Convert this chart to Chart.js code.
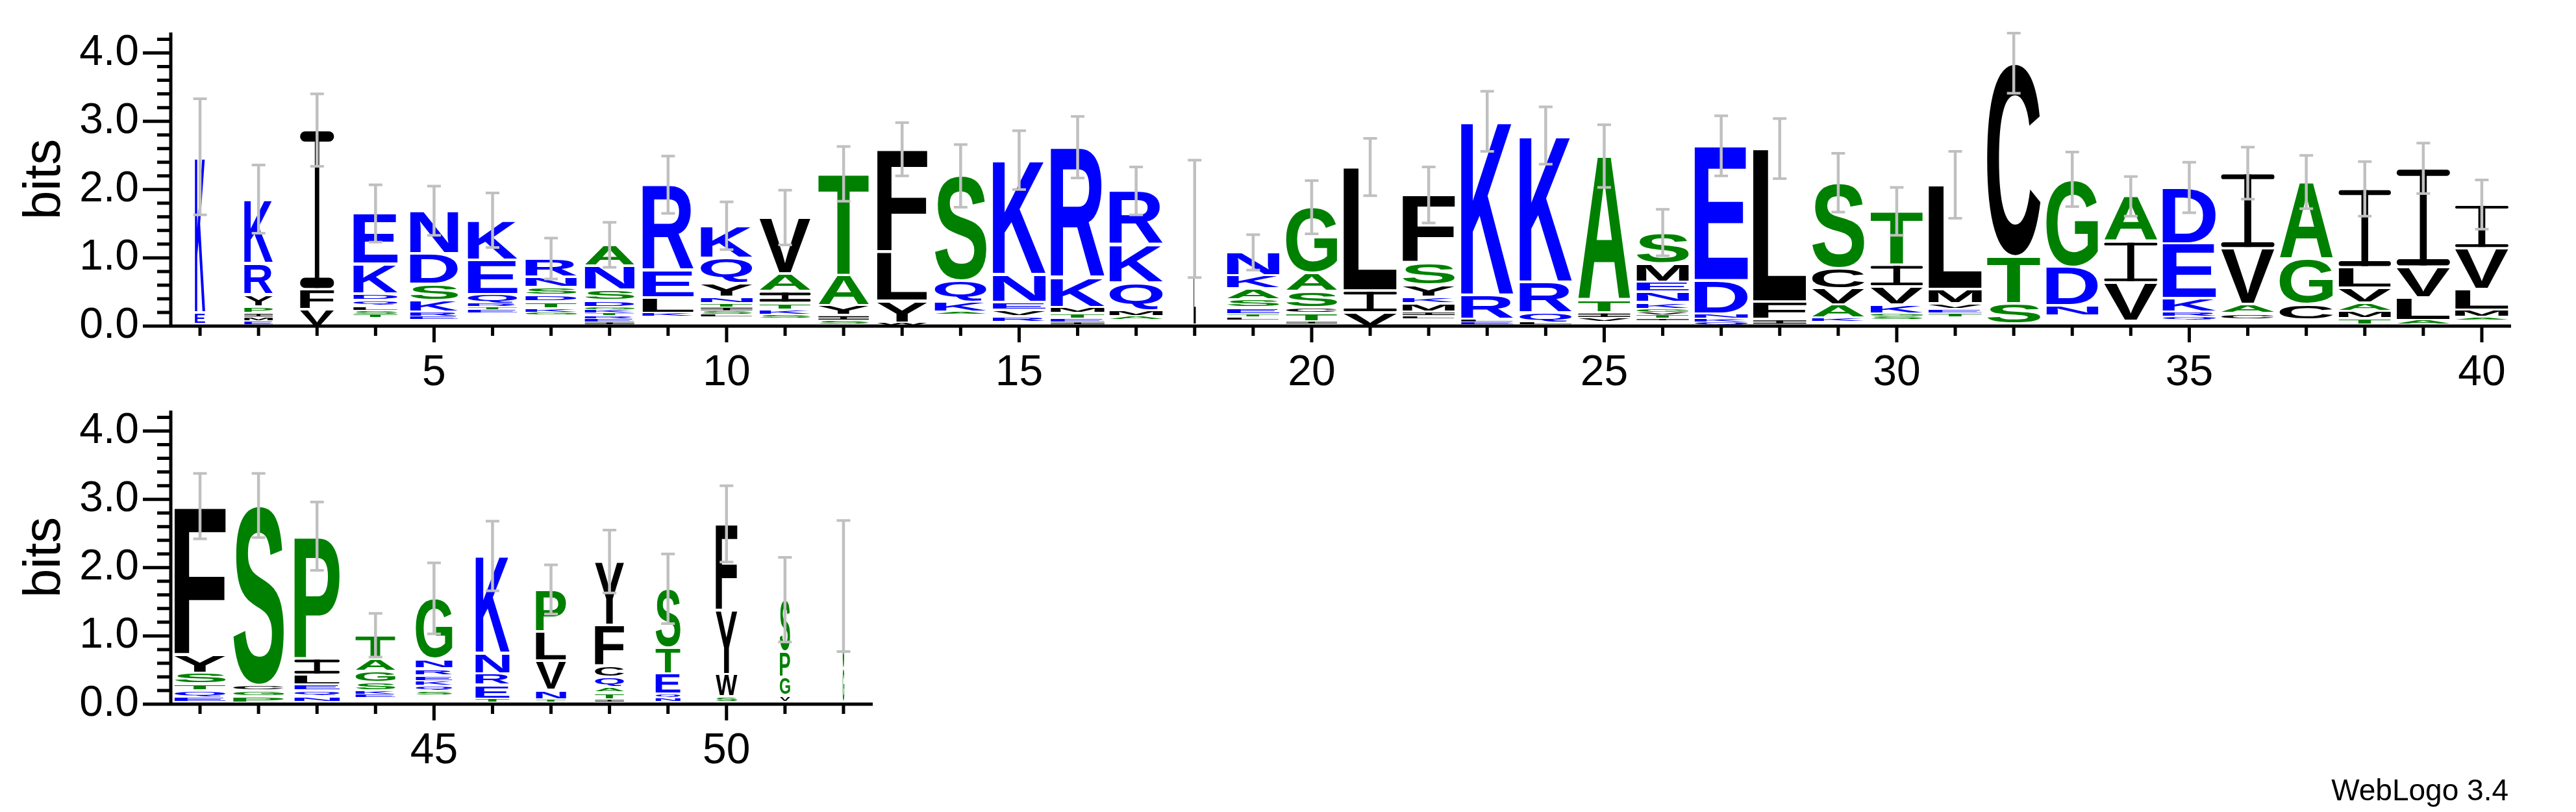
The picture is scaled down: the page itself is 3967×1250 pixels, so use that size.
<!DOCTYPE html>
<html>
<head>
<meta charset="utf-8">
<script src="https://cdn.jsdelivr.net/npm/chart.js@4.4.0/dist/chart.umd.min.js"></script>
<style>
  html, body { margin: 0; padding: 0; background: #fff; }
  body { width: 3967px; height: 1250px; position: relative; overflow: hidden; }
  canvas { position: absolute; left: 0; }
  #logoTop { top: 0; }
  #logoBottom { top: 580px; }
</style>
</head>
<body>
<canvas id="logoTop" width="3967" height="620"></canvas>
<canvas id="logoBottom" width="3967" height="670"></canvas>
<script>
// positions of the two rows
const topPositions = ['1','2','3','4','5','6','7','8','9','10','11','12','13','14','15','16','17','18','19','20',
  '21','22','23','24','25','26','27','28','29','30','31','32','33','34','35','36','37','38','39','40'];
const bottomPositions = ['41','42','43','44','45','46','47','48','49','50','51','52'];

// letters of each stack, bottom -> top ('.' = tiny residues, not drawn)
const stackLetters = ['.EK','.EMIPYRK','VFI','.TSLQDKE','.ERKSDN','.ETRQEK','.GKTDSNR','.IERTKGDSNA','.KLER','.LSITNYQK',
  '.SKTIAV','.SIYAT','.WYLF','.AKQS','.RVENK','.IETMKR','.AMQKR','.L','.LTESAKN','.ITCSAG',
  'VIL','.LIMKYSF','.ELRK','.LQRK','.VITA','.ITVGKNEMS','.QKNDE','.IFL','.KAVCS','.SGKVIT',
  '.TEVML','.STC','.NDG','.VIA','.QRKED','.CAVI','.CGA','.TMAVLI','.ALVI','.AMLVI',
  '.EQTSYF','.PGCS','.NQELIP','.EKSGAT','.SQKERNG','.TERNK','.TNVLP','.ITAQCFY','.NQETS','.SWYF','.VGPS','.GS'];

// height in bits of each letter, same order
const stackBits = [
  [0.03,0.17,2.28], [0.02,0.06,0.05,0.06,0.10,0.17,0.46,0.94], [0.25,0.29,2.33],
  [0.12,0.05,0.06,0.06,0.09,0.10,0.43,0.74], [0.09,0.05,0.07,0.17,0.24,0.45,0.62],
  [0.19,0.05,0.04,0.05,0.14,0.50,0.58], [0.16,0.04,0.06,0.10,0.10,0.11,0.15,0.27],
  [0.02,0.04,0.05,0.04,0.04,0.05,0.04,0.10,0.15,0.35,0.31], [0.14,0.05,0.23,0.40,1.25],
  [0.13,0.04,0.05,0.06,0.05,0.10,0.20,0.37,0.47], [0.11,0.06,0.07,0.10,0.17,0.26,0.82],
  [0.03,0.05,0.08,0.14,0.45,1.48], [0.01,0.04,0.32,0.72,1.50], [0.17,0.04,0.15,0.30,1.54],
  [0.06,0.08,0.10,0.11,0.41,1.67], [0.02,0.04,0.05,0.08,0.09,0.43,1.91],
  [0.09,0.05,0.10,0.40,0.55,0.79], [0.02,1.55], [0.09,0.04,0.04,0.10,0.12,0.16,0.19,0.34],
  [0.03,0.04,0.12,0.08,0.24,0.27,0.96], [0.20,0.32,1.81], [0.11,0.04,0.06,0.12,0.10,0.17,0.33,0.99],
  [0.02,0.04,0.04,0.36,2.54], [0.02,0.03,0.15,0.45,2.14], [0.06,0.06,0.08,0.18,2.11],
  [0.08,0.03,0.05,0.04,0.05,0.10,0.15,0.15,0.27,0.45], [0.02,0.04,0.05,0.07,0.49,1.97],
  [0.02,0.08,0.26,2.24], [0.07,0.05,0.19,0.24,0.30,1.25], [0.09,0.05,0.04,0.13,0.27,0.32,0.78],
  [0.13,0.06,0.06,0.08,0.21,1.53], [0.03,0.30,0.69,2.83], [0.15,0.15,0.57,1.28],
  [0.08,0.56,0.60,0.66], [0.09,0.05,0.07,0.20,0.80,0.82], [0.10,0.09,0.13,0.82,1.10],
  [0.09,0.23,0.66,1.13], [0.02,0.09,0.11,0.12,0.22,0.30,1.15], [0.02,0.07,0.33,0.45,1.44],
  [0.09,0.04,0.11,0.30,0.60,0.64],
  [0.03,0.07,0.10,0.10,0.16,0.27,2.17], [0.02,0.09,0.09,0.08,2.63], [0.03,0.08,0.09,0.09,0.14,0.24,1.79],
  [0.09,0.05,0.06,0.12,0.16,0.18,0.35], [0.13,0.07,0.07,0.07,0.08,0.10,0.14,0.89],
  [0.03,0.05,0.20,0.17,0.30,1.42], [0.03,0.04,0.14,0.43,0.43,0.61],
  [0.03,0.04,0.10,0.08,0.15,0.16,0.60,0.93], [0.04,0.05,0.06,0.30,0.38,0.86],
  [0.03,0.08,0.33,0.94,1.26], [0.03,0.10,0.27,0.37,0.76], [0.03,0.50,1.20]
];

// relative stack width (fraction of sequences present)
const stackWidths = [0.19,0.53,0.63,0.82,0.89,0.92,0.95,0.92,0.95,0.96,
  0.95,0.94,0.93,0.96,0.98,1.00,0.99,0.04,0.97,0.95,
  0.99,0.97,0.97,0.97,0.97,0.97,0.99,0.99,0.97,0.97,
  0.99,0.99,0.96,0.99,0.99,0.99,0.99,0.97,0.99,0.99,
  0.95,0.94,0.84,0.74,0.68,0.63,0.56,0.54,0.46,0.40,0.19,0.03];

// error bar half-length in bits
const errorBits = [0.85,0.50,0.53,0.42,0.36,0.40,0.30,0.33,0.42,0.35,
  0.40,0.40,0.39,0.46,0.43,0.45,0.35,0.86,0.26,0.39,
  0.42,0.41,0.44,0.42,0.46,0.34,0.44,0.44,0.43,0.35,
  0.49,0.44,0.40,0.29,0.37,0.38,0.39,0.40,0.37,0.36,
  0.48,0.47,0.50,0.32,0.52,0.51,0.36,0.46,0.51,0.56,0.62,0.96];

const FONT = '"Liberation Sans", Arial, Helvetica, sans-serif';
const GLYPH_FONT = 'bold 200px "Liberation Sans", Arial, Helvetica, sans-serif';

function letterColor(ch) {
  if ('RKDENQ'.includes(ch)) return '#0000ff';
  if ('SGHTAP'.includes(ch)) return '#008000';
  return '#000000';
}

const glyphCache = {};
function glyph(ctx, ch) {
  if (!glyphCache[ch]) {
    const m = ctx.measureText(ch);
    glyphCache[ch] = {
      left: m.actualBoundingBoxLeft,
      ascent: m.actualBoundingBoxAscent,
      w: m.actualBoundingBoxLeft + m.actualBoundingBoxRight,
      h: m.actualBoundingBoxAscent + m.actualBoundingBoxDescent
    };
  }
  return glyphCache[ch];
}

// serifed I like the weblogo one: two rounded bars and a thin stem
function drawI(ctx, x0, y0, bw, bh) {
  const bar = Math.max(bh * 0.065, Math.min(bh * 0.3, 4));
  const stem = bw * 0.13;
  ctx.fillRect(x0 + (bw - stem) / 2, y0, stem, bh);
  ctx.beginPath();
  ctx.roundRect(x0, y0, bw, bar, bar / 2);
  ctx.roundRect(x0, y0 + bh - bar, bw, bar, bar / 2);
  ctx.fill();
}

function logoPlugin(letters, heights, widths, errors, footer) {
  return {
    id: 'logo',
    afterDatasetsDraw(chart) {
      const {ctx, scales: {x, y}} = chart;
      ctx.save();
      ctx.font = GLYPH_FONT;
      ctx.textAlign = 'left';
      ctx.textBaseline = 'alphabetic';
      chart.data.datasets.forEach((ds, k) => {
        chart.getDatasetMeta(k).data.forEach((bar, j) => {
          const ch = letters[j][k];
          if (!ch || ch === '.') return;
          const p = bar.getProps(['x', 'y', 'base', 'width'], true);
          const h = p.base - p.y;
          if (h <= 0.5) return;
          const inset = Math.min(2, h * 0.2);
          const bw = p.width * widths[j];
          const bh = h - 2 * inset;
          ctx.fillStyle = letterColor(ch);
          if (ch === 'I') {
            drawI(ctx, p.x - bw / 2, p.y + inset, bw, bh);
            return;
          }
          const g = glyph(ctx, ch);
          ctx.save();
          ctx.translate(p.x - bw / 2, p.y + inset);
          ctx.scale(bw / g.w, bh / g.h);
          ctx.fillText(ch, g.left, g.ascent);
          ctx.restore();
        });
      });
      // error bars
      ctx.strokeStyle = '#c0c0c0';
      heights.forEach((hs, j) => {
        const total = hs.reduce((a, b) => a + b, 0);
        const px = x.getPixelForValue(j);
        const yTop = y.getPixelForValue(total + errors[j]);
        const yBot = y.getPixelForValue(total - errors[j]);
        ctx.lineWidth = 4.5;
        ctx.beginPath();
        ctx.moveTo(px, yTop); ctx.lineTo(px, yBot);
        ctx.stroke();
        ctx.lineWidth = 4;
        ctx.beginPath();
        ctx.moveTo(px - 10.5, yTop); ctx.lineTo(px + 10.5, yTop);
        ctx.moveTo(px - 10.5, yBot); ctx.lineTo(px + 10.5, yBot);
        ctx.stroke();
      });
      ctx.restore();
    },
    afterDraw(chart) {
      const {ctx, chartArea: {left, right, top}, scales: {x, y}} = chart;
      const y0 = y.getPixelForValue(0);
      ctx.save();
      ctx.strokeStyle = '#000';
      ctx.lineWidth = 5;
      ctx.beginPath();
      ctx.moveTo(left, top); ctx.lineTo(left, y0 + 2.5);
      ctx.moveTo(left - 2.5, y0); ctx.lineTo(right, y0);
      for (let k = 0; k <= 21; k++) {
        const py = y.getPixelForValue(k * 0.2);
        ctx.moveTo(left, py); ctx.lineTo(left - (k % 5 === 0 ? 43 : 21), py);
      }
      x.getLabels().forEach((lab, i) => {
        const px = x.getPixelForValue(i);
        ctx.moveTo(px, y0); ctx.lineTo(px, y0 + (lab % 5 === 0 ? 25 : 15));
      });
      ctx.stroke();
      if (footer) {
        ctx.fillStyle = '#000';
        ctx.font = '46px ' + FONT;
        ctx.textAlign = 'right';
        ctx.textBaseline = 'alphabetic';
        ctx.fillText(footer.text, footer.x, footer.y);
      }
      ctx.restore();
    }
  };
}

function buildLogo(canvasId, labels, letters, heights, widths, errors, layout, footer) {
  const layers = Math.max(...letters.map(s => s.length));
  const datasets = [];
  for (let k = 0; k < layers; k++) {
    datasets.push({
      data: heights.map(h => h[k] || 0),
      backgroundColor: 'rgba(0,0,0,0)',
      borderWidth: 0,
      categoryPercentage: 1,
      barPercentage: 0.92
    });
  }
  return new Chart(document.getElementById(canvasId), {
    type: 'bar',
    data: {labels, datasets},
    options: {
      responsive: false,
      animation: false,
      devicePixelRatio: 1,
      layout: {padding: {top: layout.top, right: layout.right, left: 0, bottom: 0}},
      plugins: {legend: {display: false}, tooltip: {enabled: false}},
      scales: {
        x: {
          stacked: true,
          grid: {display: false, drawTicks: false},
          border: {display: false},
          ticks: {
            autoSkip: false, maxRotation: 0, padding: 33, color: '#000',
            font: {family: FONT, size: 66},
            callback(v) { const lab = this.getLabelForValue(v); return lab % 5 === 0 ? lab : ''; }
          },
          afterFit(s) { s.height = layout.axisHeight; }
        },
        y: {
          stacked: true, min: 0, max: 4.3,
          grid: {display: false, drawTicks: false},
          border: {display: false},
          ticks: {
            stepSize: 1, includeBounds: false, padding: 49, color: '#000',
            font: {family: FONT, size: 66},
            callback: v => Number.isInteger(v) ? v.toFixed(1) : ''
          },
          title: {display: true, text: 'bits', color: '#000', font: {family: FONT, size: 80}, padding: {top: 22, bottom: 0}},
          afterFit(s) { s.width = 263; s.paddingTop = 0; s.paddingBottom = 0; }
        }
      }
    },
    plugins: [logoPlugin(letters, heights, widths, errors, footer)]
  });
}

buildLogo('logoTop', topPositions,
  stackLetters.slice(0, 40), stackBits.slice(0, 40), stackWidths.slice(0, 40), errorBits.slice(0, 40),
  {top: 50, right: 100, axisHeight: 118}, null);

buildLogo('logoBottom', bottomPositions,
  stackLetters.slice(40), stackBits.slice(40), stackWidths.slice(40), errorBits.slice(40),
  {top: 52, right: 2623, axisHeight: 166}, {text: 'WebLogo 3.4', x: 3863, y: 652});
</script>
</body>
</html>
